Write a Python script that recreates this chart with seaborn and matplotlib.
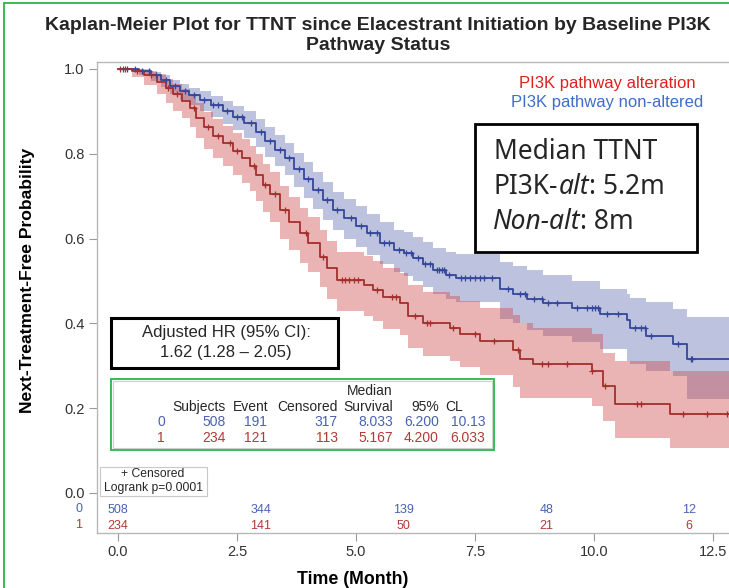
import numpy as np
import pandas as pd
import matplotlib
matplotlib.use("Agg")
import matplotlib.pyplot as plt
from matplotlib.patches import Rectangle
from matplotlib.text import Annotation
import seaborn as sns

W, H = 729, 588

# ---- Kaplan-Meier estimates: PI3K pathway non-altered (group 0) ----
t_non = [0, 0.45, 0.7, 0.9, 1.1, 1.3, 1.5, 1.72, 1.95, 2.2, 2.42, 2.65, 2.9, 3.1,
         3.3, 3.5, 3.7, 3.9, 4.1, 4.3, 4.52, 4.75, 5.0, 5.23, 5.5, 5.8, 6.0, 6.2,
         6.4, 6.62, 6.9, 7.1, 8.03, 8.3, 8.6, 8.93, 9.54, 10.13, 10.7, 10.75,
         11.1, 11.66, 11.95]
s_non = [1.0, 0.995, 0.985, 0.975, 0.96, 0.948, 0.938, 0.928, 0.915, 0.9, 0.887,
         0.872, 0.852, 0.83, 0.81, 0.79, 0.765, 0.74, 0.715, 0.69, 0.667, 0.648,
         0.63, 0.612, 0.59, 0.572, 0.565, 0.553, 0.54, 0.525, 0.515, 0.508, 0.482,
         0.47, 0.458, 0.447, 0.437, 0.423, 0.407, 0.39, 0.371, 0.352, 0.317]
lo_non = [1.0, 0.985, 0.972, 0.958, 0.94, 0.926, 0.914, 0.902, 0.887, 0.87, 0.855,
          0.838, 0.816, 0.792, 0.771, 0.749, 0.722, 0.696, 0.67, 0.644, 0.62, 0.6,
          0.581, 0.562, 0.539, 0.52, 0.512, 0.499, 0.485, 0.469, 0.458, 0.45,
          0.41, 0.40, 0.385, 0.37, 0.355, 0.34, 0.312, 0.305, 0.288, 0.275, 0.222]
hi_non = [1.0, 1.0, 0.994, 0.986, 0.975, 0.965, 0.956, 0.948, 0.937, 0.924, 0.913,
          0.9, 0.882, 0.862, 0.844, 0.826, 0.803, 0.78, 0.757, 0.733, 0.711, 0.693,
          0.676, 0.659, 0.638, 0.621, 0.615, 0.604, 0.592, 0.578, 0.569, 0.563,
          0.545, 0.535, 0.525, 0.515, 0.50, 0.48, 0.47, 0.46, 0.45, 0.435, 0.414]
cens_non = [0.1, 0.2, 0.35, 0.5, 0.65, 0.8, 1.0, 1.2, 1.4, 1.6, 1.8, 2.0, 2.1, 2.3,
            2.5, 2.6, 2.8, 3.0, 3.2, 3.4, 3.6, 3.8, 4.0, 4.2, 4.4, 4.6, 4.9, 5.1,
            5.3, 5.45, 5.6, 5.7, 5.9, 6.05, 6.15, 6.3, 6.45, 6.55, 6.7, 6.75, 6.8,
            6.85, 6.95, 7.2, 7.3, 7.4, 7.5, 7.6, 7.7, 7.85, 8.2, 8.45, 8.55, 8.75,
            8.9, 9.04, 9.22, 9.64, 9.85, 9.96, 10.02, 10.08, 10.27, 10.5, 10.86,
            11.0, 11.07, 11.2, 11.76, 12.03, 12.06]

# ---- Kaplan-Meier estimates: PI3K pathway alteration (group 1) ----
t_alt = [0, 0.3, 0.55, 0.82, 1.0, 1.16, 1.35, 1.51, 1.65, 1.8, 2.0, 2.2, 2.42, 2.6,
         2.77, 2.9, 3.05, 3.2, 3.4, 3.6, 3.82, 4.0, 4.24, 4.4, 4.6, 5.167, 5.36,
         5.57, 5.92, 6.1, 6.4, 6.97, 7.18, 7.6, 8.3, 8.45, 8.72, 9.96, 10.19,
         10.44, 11.6]
s_alt = [1.0, 0.995, 0.985, 0.97, 0.955, 0.94, 0.925, 0.908, 0.885, 0.862, 0.843,
         0.825, 0.806, 0.79, 0.772, 0.75, 0.726, 0.705, 0.667, 0.64, 0.612, 0.59,
         0.556, 0.53, 0.502, 0.49, 0.478, 0.461, 0.447, 0.418, 0.4, 0.39, 0.376,
         0.359, 0.336, 0.317, 0.303, 0.288, 0.253, 0.21, 0.187]
lo_alt = [1.0, 0.98, 0.962, 0.94, 0.92, 0.902, 0.884, 0.864, 0.838, 0.812, 0.791,
          0.771, 0.75, 0.732, 0.712, 0.689, 0.663, 0.64, 0.6, 0.572, 0.543, 0.52,
          0.485, 0.458, 0.43, 0.417, 0.405, 0.387, 0.372, 0.342, 0.323, 0.312,
          0.297, 0.279, 0.25, 0.225, 0.225, 0.205, 0.17, 0.13, 0.106]
hi_alt = [1.0, 1.0, 0.996, 0.988, 0.977, 0.965, 0.953, 0.939, 0.919, 0.899, 0.882,
          0.866, 0.849, 0.835, 0.819, 0.799, 0.777, 0.758, 0.723, 0.698, 0.672,
          0.652, 0.62, 0.595, 0.569, 0.558, 0.547, 0.531, 0.518, 0.491, 0.474,
          0.465, 0.452, 0.437, 0.42, 0.40, 0.39, 0.375, 0.33, 0.31, 0.288]
cens_alt = [0.05, 0.15, 0.4, 0.7, 1.05, 1.25, 1.6, 1.9, 2.1, 2.35, 2.5, 2.85, 3.1,
            3.3, 3.5, 3.95, 4.3, 4.7, 4.78, 4.85, 4.95, 5.05, 5.45, 5.75, 5.85,
            6.25, 6.5, 6.55, 7.05, 7.5, 7.9, 8.4, 8.9, 9.03, 9.43, 9.96, 10.23,
            10.9, 11.0, 11.87, 12.37, 12.8]

# ---- number at risk ----
risk_times = [0, 3, 6, 9, 12]
risk_non = [508, 344, 139, 48, 12]
risk_alt = [234, 141, 50, 21, 6]

# ---- summary table ----
tab_group = ["0", "1"]
tab_subjects = [508, 234]
tab_event = [191, 121]
tab_censored = [317, 113]
tab_median = ["8.033", "5.167"]
tab_lcl = ["6.200", "4.200"]
tab_ucl = ["10.13", "6.033"]

XMIN, XMAX = -0.44, 13.49
YMIN, YMAX = -0.0946, 1.0165

BLUE_LINE, BLUE_FILL, BLUE_TXT = "#34479a", "#5a6aae", "#4a62b0"
RED_LINE, RED_FILL, RED_TXT = "#a3302c", "#cc4444", "#b03a36"

sns.set_style("white")
plt.rcParams["font.family"] = ["Liberation Sans", "DejaVu Sans"]

fig = plt.figure(figsize=(W / 100, H / 100), dpi=100)
ax = fig.add_axes([97 / W, 1 - 533 / H, (760 - 97) / W, (533 - 62) / H])


def fx(x):
    return x / W


def fy(y):
    return 1 - y / H


def km_frame(t, s, lo, hi):
    df = pd.DataFrame({"time": t, "surv": s, "lo": lo, "hi": hi})
    tail = df.iloc[[-1]].copy()
    tail["time"] = XMAX
    return pd.concat([df, tail], ignore_index=True)


groups = [
    (km_frame(t_non, s_non, lo_non, hi_non), cens_non, BLUE_LINE, BLUE_FILL),
    (km_frame(t_alt, s_alt, lo_alt, hi_alt), cens_alt, RED_LINE, RED_FILL),
]

for df, _, _, fill in groups:
    ax.fill_between(df["time"], df["lo"], df["hi"], step="post",
                    color=fill, alpha=0.4, lw=0)

for df, cens, line, _ in groups:
    sns.lineplot(data=df, x="time", y="surv", ax=ax, color=line, lw=1.3,
                 drawstyle="steps-post", estimator=None, sort=False)
    tt = df["time"].to_numpy()
    ss = df["surv"].to_numpy()
    cy = ss[np.searchsorted(tt, np.asarray(cens), side="right") - 1]
    sns.scatterplot(x=cens, y=cy, ax=ax, marker="+", s=22, color=line,
                    linewidth=0.9, zorder=4)

# at-risk counts inside the plot area
for tx, a, b in zip(risk_times, risk_non, risk_alt):
    ax.text(tx, (492 - 509) / 423, str(a), color=BLUE_TXT, ha="center",
            va="center", fontsize=9)
    ax.text(tx, (492 - 525) / 423, str(b), color=RED_TXT, ha="center",
            va="center", fontsize=9)
fig.text(fx(82), fy(509), "0", color=BLUE_TXT, ha="right", va="center", fontsize=9)
fig.text(fx(82), fy(525), "1", color=RED_TXT, ha="right", va="center", fontsize=9)

ax.set_xlim(XMIN, XMAX)
ax.set_ylim(YMIN, YMAX)
ax.set_xticks([0, 2.5, 5, 7.5, 10, 12.5])
ax.set_xticklabels(["0.0", "2.5", "5.0", "7.5", "10.0", "12.5"])
ax.set_yticks([0, 0.2, 0.4, 0.6, 0.8, 1.0])
ax.set_yticklabels(["0.0", "0.2", "0.4", "0.6", "0.8", "1.0"])
ax.tick_params(direction="out", length=6, width=0.8, color="#9a9a9a",
               labelsize=10.5, labelcolor="#333333", pad=3,
               bottom=True, left=True)
for side in ["left", "top", "bottom"]:
    ax.spines[side].set_color("#b8b8b8")
    ax.spines[side].set_linewidth(1.0)
ax.spines["right"].set_visible(False)

ax.set_xlabel("Time (Month)", fontsize=12.8, fontweight="bold", color="black")
ax.xaxis.set_label_coords((353 - 97) / 663, -0.08)
ax.set_ylabel("Next-Treatment-Free Probability", fontsize=12.6, fontweight="bold",
              color="black")
ax.yaxis.set_label_coords((35 - 97) / 663, (533 - 280) / 471)

# title
fig.text(fx(378), fy(25), "Kaplan-Meier Plot for TTNT since Elacestrant Initiation by Baseline PI3K",
         ha="center", va="center", fontsize=14, fontweight="bold")
fig.text(fx(378), fy(45), "Pathway Status", ha="center", va="center",
         fontsize=14, fontweight="bold")

# group labels
fig.text(fx(607), fy(84), "PI3K pathway alteration", color="#e0201f",
         ha="center", va="center", fontsize=12)
fig.text(fx(607), fy(103), "PI3K pathway non-altered", color="#3d6ec9",
         ha="center", va="center", fontsize=12)

# median TTNT box
fig.add_artist(Rectangle((fx(475), fy(252)), fx(697) - fx(475), fy(124) - fy(252),
                         transform=fig.transFigure, fill=True, fc="white",
                         ec="black", lw=2.0, zorder=5))
mfont = ["Noto Sans", "DejaVu Sans"]


def rich_line(x, y, pieces, size):
    prev = None
    for txt, style in pieces:
        if prev is None:
            prev = fig.text(fx(x), fy(y), txt, fontsize=size, family=mfont,
                            style=style, va="bottom", ha="left", zorder=6)
        else:
            ann = Annotation(txt, xy=(1, 0), xycoords=prev, va="bottom",
                             fontsize=size, family=mfont, style=style,
                             annotation_clip=False)
            ann.set_zorder(6)
            fig.add_artist(ann)
            prev = ann


rich_line(494, 166, [("Median TTNT", "normal")], 19)
rich_line(494, 201, [("PI3K-", "normal"), ("alt", "italic"), (": 5.2m", "normal")], 19)
rich_line(493, 236, [("Non-alt", "italic"), (": 8m", "normal")], 19)

# hazard ratio box
fig.add_artist(Rectangle((fx(111), fy(368)), fx(338) - fx(111), fy(318) - fy(368),
                         transform=fig.transFigure, fill=True, fc="white",
                         ec="black", lw=2.2, zorder=5))
fig.text(fx(226), fy(332), "Adjusted HR (95% CI):", ha="center", va="center",
         fontsize=12, zorder=6)
fig.text(fx(226), fy(352), "1.62 (1.28 \u2013 2.05)", ha="center", va="center",
         fontsize=12, zorder=6)

# summary table box
fig.add_artist(Rectangle((fx(111), fy(450)), fx(494) - fx(111), fy(379) - fy(450),
                         transform=fig.transFigure, fill=True, fc="white",
                         ec="#2db34a", lw=1.3, zorder=5))
fig.add_artist(Rectangle((fx(113), fy(448)), fx(492) - fx(113), fy(381) - fy(448),
                         transform=fig.transFigure, fill=False,
                         ec="#d0d0d0", lw=0.8, zorder=5))
tfs = 10
fig.text(fx(393), fy(391), "Median", ha="right", va="center", fontsize=tfs, zorder=6)
for xr, lab in [(226, "Subjects"), (268, "Event"), (338, "Censored"),
                (393, "Survival"), (439, "95%"), (463, "CL")]:
    fig.text(fx(xr), fy(407), lab, ha="right", va="center", fontsize=tfs, zorder=6)
for i, (yy, col) in enumerate([(422, BLUE_TXT), (438, RED_TXT)]):
    vals = [tab_group[i], str(tab_subjects[i]), str(tab_event[i]),
            str(tab_censored[i]), tab_median[i], tab_lcl[i], tab_ucl[i]]
    for xr, v in zip([165, 226, 267, 338, 393, 439, 485], vals):
        fig.text(fx(xr), fy(yy), v, ha="right", va="center", fontsize=tfs,
                 color=col, zorder=6)

# censor / logrank box
fig.add_artist(Rectangle((fx(100), fy(496)), fx(207) - fx(100), fy(467) - fy(496),
                         transform=fig.transFigure, fill=True, fc="white",
                         ec="#c8c8c8", lw=0.8, zorder=5))
fig.text(fx(153), fy(474), "+ Censored", ha="center", va="center", fontsize=8.7, zorder=6)
fig.text(fx(153), fy(488), "Logrank p=0.0001", ha="center", va="center",
         fontsize=8.7, zorder=6)

# outer frame
fig.add_artist(Rectangle((fx(4), -0.1), 2, fy(3) + 0.1, transform=fig.transFigure,
                         fill=False, ec="#2db34a", lw=1.3))

fig.savefig("out.png", dpi=100)
